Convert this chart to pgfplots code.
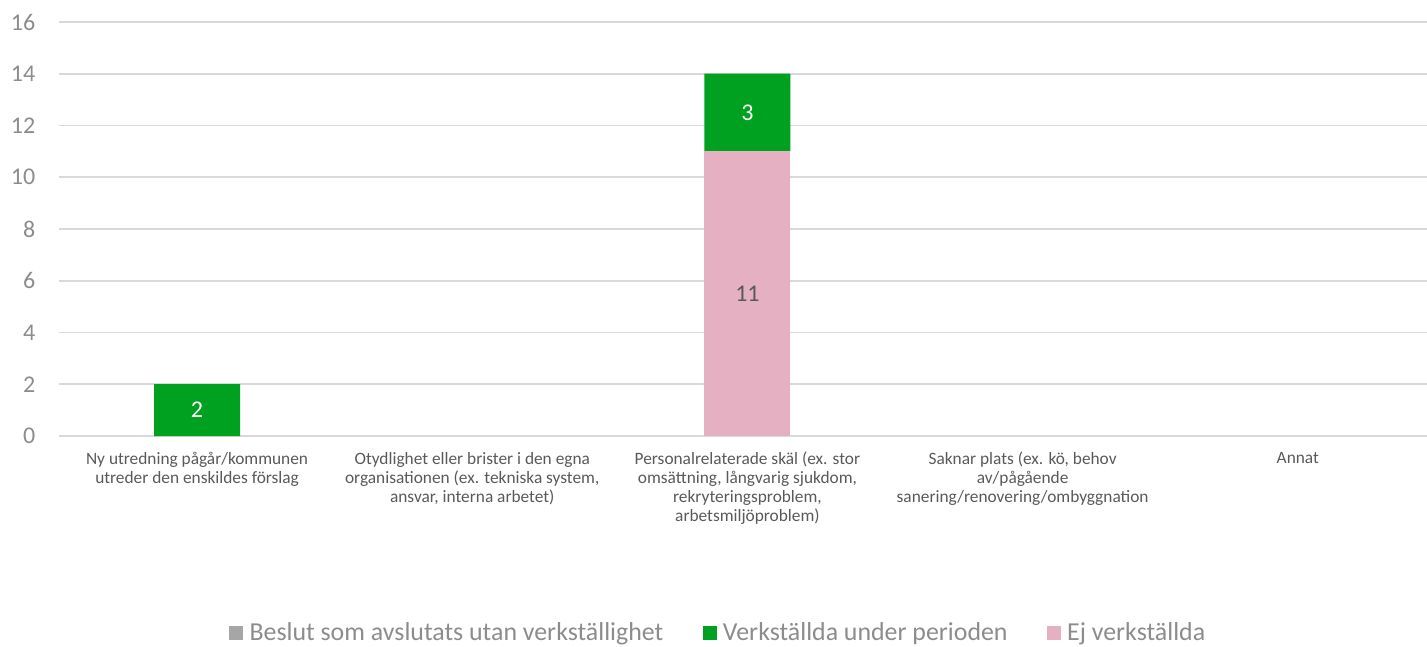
\documentclass[border=0pt]{standalone}
\usepackage{pgfplots}
\pgfplotsset{compat=1.18}
\usepackage{fontspec}
\setmainfont{Carlito}
\definecolor{gr}{HTML}{00A020}
\definecolor{pk}{HTML}{E4B0C2}
\definecolor{gy}{HTML}{A6A6A6}
\definecolor{gridc}{HTML}{D9D9D9}
\definecolor{tickc}{HTML}{8C8C8C}
\definecolor{catc}{HTML}{595959}
\begin{document}
\begin{tikzpicture}
\useasboundingbox (0,0) rectangle (1070.25pt,484.5pt);
\begin{axis}[
 at={(44.6pt,157.5pt)}, anchor=south west,
 scale only axis, width=1032pt, height=310.5pt,
 ybar stacked, bar width=64.5pt,
 xmin=-0.5, xmax=4.5, ymin=0, ymax=16,
 ytick={0,2,...,16},
 xtick={0,...,4},
 xticklabels={
  {Ny utredning pågår/kommunen\\utreder den enskildes förslag},
  {Otydlighet eller brister i den egna\\organisationen (ex. tekniska system,\\ansvar, interna arbetet)},
  {Personalrelaterade skäl (ex. stor\\omsättning, långvarig sjukdom,\\rekryteringsproblem,\\arbetsmiljöproblem)},
  {Saknar plats (ex. kö, behov\\av/pågående\\sanering/renovering/ombyggnation},
  {Annat}},
 axis line style={draw=none},
 major tick length=0pt,
 ymajorgrids, grid style={draw=gridc, line width=1.4pt},
 /pgf/number format/assume math mode=true,
 yticklabel style={font=\fontsize{18}{18}\selectfont, text=tickc, anchor=east, inner sep=0pt, xshift=-18pt},
 xticklabel style={font=\fontsize{13}{14.25}\selectfont, text=catc, align=center, anchor=north, inner sep=0pt, yshift=-12pt},
 legend style={at={(0.4790,-0.4758)}, anchor=center, draw=none, fill=none, legend columns=3,
   font=\fontsize{19.4}{19.4}\selectfont, text=tickc,
   /tikz/every even column/.append style={column sep=27.5pt}},
 point meta=explicit symbolic,
 nodes near coords,
 every node near coord/.append style={anchor=center, font=\fontsize{18}{18}\selectfont},
]
\addplot[fill=pk, draw=none, forget plot, every node near coord/.append style={text=catc}]
 coordinates {(0,0) [{}] (1,0) [{}] (2,11) [11] (3,0) [{}] (4,0) [{}]};
\addplot[fill=gr, draw=none, forget plot, every node near coord/.append style={text=white}]
 coordinates {(0,2) [2] (1,0) [{}] (2,3) [3] (3,0) [{}] (4,0) [{}]};
\addlegendimage{legend image code/.code={\fill[gy] (0pt,-4.875pt) rectangle (9.75pt,4.875pt);\path[draw=none,fill=none] (0pt,0pt) -- (13pt,0pt);}}
\addlegendentry{Beslut som avslutats utan verkställighet}
\addlegendimage{legend image code/.code={\fill[gr] (0pt,-4.875pt) rectangle (9.75pt,4.875pt);\path[draw=none,fill=none] (0pt,0pt) -- (13pt,0pt);}}
\addlegendentry{Verkställda under perioden}
\addlegendimage{legend image code/.code={\fill[pk] (0pt,-4.875pt) rectangle (9.75pt,4.875pt);\path[draw=none,fill=none] (0pt,0pt) -- (13pt,0pt);}}
\addlegendentry{Ej verkställda}
\end{axis}
\end{tikzpicture}
\end{document}
